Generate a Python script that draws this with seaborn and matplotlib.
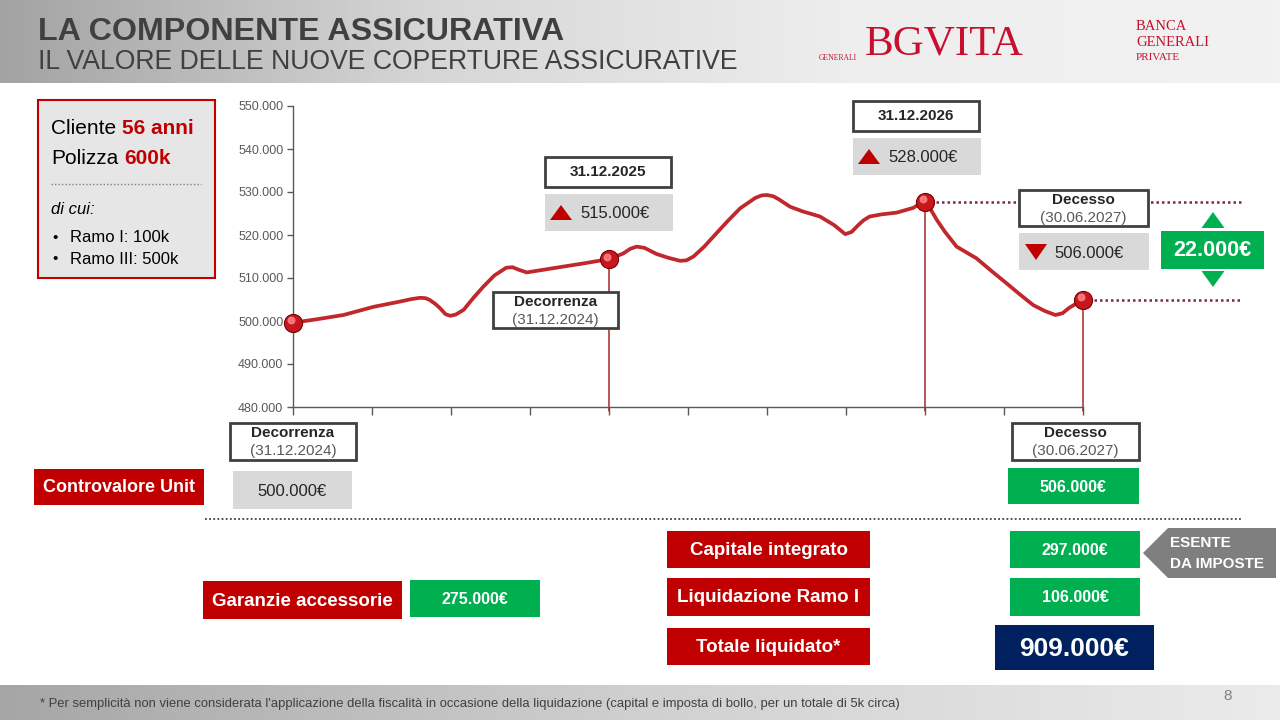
import matplotlib
matplotlib.use('Agg')

import matplotlib.pyplot as plt
import seaborn as sns
import numpy as np
from matplotlib.patches import Rectangle, Polygon
from matplotlib.colors import LinearSegmentedColormap
from matplotlib.ticker import FuncFormatter
from matplotlib.transforms import offset_copy

# --- data ---
# controvalore della parte Unit, x = semestri dall'inizio del grafico
curve_x = [0.00, 0.30, 0.64, 1.02, 1.35, 1.50, 1.61, 1.68, 1.73, 1.80, 1.86,
           1.93, 1.99, 2.06, 2.16, 2.28, 2.41, 2.55, 2.70, 2.78, 2.86, 2.96,
           3.30, 3.68, 4.00, 4.18, 4.27, 4.35, 4.45, 4.60, 4.75, 4.90, 4.98,
           5.07, 5.20, 5.32, 5.50, 5.66, 5.85, 5.93, 6.00, 6.08, 6.15, 6.29,
           6.45, 6.67, 6.85, 6.99, 7.07, 7.15, 7.22, 7.30, 7.45, 7.64, 7.85,
           7.93, 8.00, 8.07, 8.15, 8.25, 8.40, 8.52, 8.65, 8.85, 9.03, 9.20,
           9.37, 9.52, 9.65, 9.74, 9.82, 9.91, 10.00]
curve_val = [499600, 500400, 501400, 503300, 504500, 505100, 505400, 505300,
             504900, 504000, 503000, 501600, 501200, 501500, 502600, 505300,
             508000, 510600, 512400, 512500, 511900, 511300, 512300, 513400,
             514400, 515700, 516800, 517300, 517000, 515600, 514700, 514000,
             514100, 515000, 517200, 519600, 523200, 526200, 528600, 529200,
             529300, 529000, 528300, 526600, 525500, 524300, 522300, 520200,
             520700, 522200, 523400, 524300, 524800, 525200, 526300, 527200,
             527700, 526000, 523500, 520800, 517300, 516000, 514600, 511500,
             508800, 506200, 503700, 502300, 501400, 501800, 503000, 504000,
             505000]
event_x = [0, 4, 8, 10]
event_val = [499600, 514400, 527700, 505000]
y_ticks = [480000, 490000, 500000, 510000, 520000, 530000, 540000, 550000]
x_ticks = list(range(11))

date_labels = ['31.12.2025', '31.12.2026']
date_amounts = [515000, 528000]
death_amount = 506000
delta_amount = 22000
start_amount = 500000
end_amount = 506000
payout_labels = ['Capitale integrato', 'Liquidazione Ramo I', 'Totale liquidato*']
payout_values = [297000, 106000, 909000]
garanzie_value = 275000

RED = '#C00000'
GREEN = '#00B050'
NAVY = '#002060'
LGRAY = '#D9D9D9'
DARK = '#262626'


def eur(v):
    return f"{v:,.0f}".replace(',', '.') + '€'


sns.set_theme(style='white')
plt.rcParams['font.family'] = ['Liberation Sans', 'DejaVu Sans']

fig = plt.figure(figsize=(12.8, 7.2), dpi=100)

# --- chart ---
ax = fig.add_axes([293 / 1280, (720 - 407) / 720, 790 / 1280, 301 / 720], zorder=1)
ax.patch.set_alpha(0)
sns.lineplot(x=curve_x, y=curve_val, ax=ax, color='#C0282D', linewidth=2.7,
             solid_joinstyle='round', solid_capstyle='round', zorder=3)

for x, v in zip(event_x[1:], event_val[1:]):
    ax.plot([x, x], [v, y_ticks[0] - 1000], color='#A52A2A', lw=1.1,
            clip_on=False, zorder=2)
for x, v in zip(event_x[2:], event_val[2:]):
    ax.plot([x, 12], [v, v], color='#7B2746', lw=1.8, dashes=(1, 1.2),
            clip_on=False, zorder=2)

sns.scatterplot(x=event_x, y=event_val, ax=ax, s=170, color='#C8161E',
                edgecolor='#7A0000', linewidth=0.8, zorder=5, clip_on=False)
ax.scatter(event_x, event_val, s=22, color='#FF8A8A', alpha=0.8, zorder=6,
           clip_on=False, transform=offset_copy(ax.transData, fig, x=-2.5, y=2.5, units='dots'))

ax.set_xlim(0, 10)
ax.set_ylim(y_ticks[0], y_ticks[-1])
ax.set_xticks(x_ticks)
ax.set_xticklabels([])
ax.set_yticks(y_ticks)
ax.yaxis.set_major_formatter(FuncFormatter(lambda v, p: f"{v:,.0f}".replace(',', '.')))
ax.tick_params(axis='y', length=4, width=1, color='#595959', labelsize=9,
               labelcolor='#595959', pad=3, left=True)
ax.tick_params(axis='x', length=6, width=1, color='#595959', bottom=True)
for side in ['top', 'right']:
    ax.spines[side].set_visible(False)
for side in ['left', 'bottom']:
    ax.spines[side].set_color('#595959')
    ax.spines[side].set_linewidth(1)
ax.grid(False)

# --- slide overlay ---
ov = fig.add_axes([0, 0, 1, 1], zorder=3)
ov.patch.set_alpha(0)
ov.axis('off')

grad = np.linspace(0, 1, 256).reshape(1, -1)
head_cmap = LinearSegmentedColormap.from_list('h', ['#A3A3A3', '#D6D6D6', '#EEEEEE', '#F2F2F2'])
foot_cmap = LinearSegmentedColormap.from_list('f', ['#A6A6A6', '#D0D0D0', '#EBEBEB'])
ov.imshow(grad, extent=[0, 1280, 83, 0], cmap=head_cmap, aspect='auto', zorder=0)
ov.imshow(grad, extent=[0, 1280, 720, 685], cmap=foot_cmap, aspect='auto', zorder=0)
ov.set_xlim(0, 1280)
ov.set_ylim(720, 0)


def box(x0, y0, x1, y1, fc, ec='none', lw=0):
    ov.add_patch(Rectangle((x0, y0), x1 - x0, y1 - y0, facecolor=fc,
                           edgecolor=ec, linewidth=lw, zorder=2))


def txt(x, y, s, size, color=DARK, weight='normal', ha='center', style='normal'):
    return ov.text(x, y, s, fontsize=size, color=color, fontweight=weight,
                   ha=ha, va='center', fontstyle=style, zorder=4)


def tri(cx, top, bottom, w, up, color):
    if up:
        pts = [(cx - w / 2, bottom), (cx + w / 2, bottom), (cx, top)]
    else:
        pts = [(cx - w / 2, top), (cx + w / 2, top), (cx, bottom)]
    ov.add_patch(Polygon(pts, closed=True, facecolor=color, edgecolor='none', zorder=4))


def date_box(x0, y0, x1, y1, title, sub):
    box(x0, y0, x1, y1, 'white', '#404040', 2)
    cx = (x0 + x1) / 2
    txt(cx, y0 + 10, title, 11, DARK, 'bold')
    txt(cx, y0 + 28, sub, 11, '#595959')


# header
txt(38, 32, 'LA COMPONENTE ASSICURATIVA', 23.2, '#404040', 'bold', ha='left')
txt(38, 62, 'IL VALORE DELLE NUOVE COPERTURE ASSICURATIVE', 19.2, '#404040', ha='left')
ov.text(865, 44, 'BGVITA', fontsize=31, color='#C8102E', family='Liberation Serif',
        ha='left', va='center', zorder=4)
ov.text(838, 58, 'GENERALI', fontsize=5.5, color='#C8102E', family='Liberation Serif',
        ha='center', va='center', zorder=4)
for yy, s, fs in [(26, 'BANCA', 10.5), (42, 'GENERALI', 10.5), (58, 'PRIVATE', 8)]:
    ov.text(1136, yy, s, fontsize=fs, color='#C8102E', family='Liberation Serif',
            ha='left', va='center', zorder=4)

# client box
box(38, 100, 215, 278, '#E7E6E6', RED, 1.5)
t1 = txt(51, 129, 'Cliente', 15, 'black', ha='left')
ov.annotate('56 anni', xy=(1, 0.5), xycoords=t1, xytext=(4, 0), textcoords='offset points',
            fontsize=15, color=RED, fontweight='bold', ha='left', va='center', zorder=4)
t2 = txt(51, 159, 'Polizza', 15, 'black', ha='left')
ov.annotate('600k', xy=(1, 0.5), xycoords=t2, xytext=(4, 0), textcoords='offset points',
            fontsize=15, color=RED, fontweight='bold', ha='left', va='center', zorder=4)
ov.plot([51, 201], [184, 184], color='#7F7F7F', lw=1, dashes=(1, 1.5), zorder=4)
txt(51, 210, 'di cui:', 12, 'black', ha='left', style='italic')
for yy, s in [(238, 'Ramo I: 100k'), (259, 'Ramo III: 500k')]:
    txt(52, yy, '•', 11, 'black', ha='left')
    txt(70, yy, s, 12, 'black', ha='left')

# chart callouts
date_box(493, 292, 618, 328, 'Decorrenza', '(31.12.2024)')
for (x0, y0), lab, amt in zip([(545, 157), (853, 101)], date_labels, date_amounts):
    box(x0, y0, x0 + 126, y0 + 30, 'white', '#404040', 2)
    txt(x0 + 63, y0 + 15, lab, 11, DARK, 'bold')
    box(x0, y0 + 37, x0 + 128, y0 + 74, LGRAY)
    tri(x0 + 16, y0 + 48, y0 + 63, 22, True, RED)
    txt(x0 + 35, y0 + 56, eur(amt), 12, DARK, ha='left')

date_box(1019, 190, 1148, 226, 'Decesso', '(30.06.2027)')
box(1019, 233, 1149, 270, LGRAY)
tri(1036, 244, 260, 22, False, RED)
txt(1054, 253, eur(death_amount), 12, DARK, ha='left')

box(1161, 231, 1264, 269, GREEN)
txt(1212, 251, eur(delta_amount), 15.5, 'white', 'bold')
tri(1213, 212, 228, 23, True, GREEN)
tri(1213, 271, 287, 23, False, GREEN)

# lower section
date_box(230, 423, 356, 460, 'Decorrenza', '(31.12.2024)')
date_box(1012, 423, 1139, 460, 'Decesso', '(30.06.2027)')
box(34, 469, 204, 505, RED)
txt(119, 488, 'Controvalore Unit', 13, 'white', 'bold')
box(233, 471, 352, 509, LGRAY)
txt(292, 492, eur(start_amount), 12, DARK)
box(1008, 468, 1139, 504, GREEN)
txt(1073, 487, eur(end_amount), 11.5, 'white', 'bold')

ov.plot([205, 1243], [519, 519], color='#404040', lw=1.3, dashes=(1, 1.3), zorder=4)

rows = [(531, 568), (578, 616), (628, 665)]
for (y0, y1), lab in zip(rows, payout_labels):
    box(667, y0, 870, y1, RED)
    txt(768.5, (y0 + y1) / 2 + 1, lab, 13.5, 'white', 'bold')
for (y0, y1), val in zip(rows[:2], payout_values[:2]):
    box(1010, y0, 1140, y1, GREEN)
    txt(1075, (y0 + y1) / 2 + 1, eur(val), 11.5, 'white', 'bold')
box(995, 625, 1154, 670, NAVY)
txt(1074.5, 648.5, eur(payout_values[2]), 19, 'white', 'bold')

ov.add_patch(Polygon([(1143, 553), (1168, 528), (1276, 528), (1276, 578), (1168, 578)],
                     closed=True, facecolor='#7F7F7F', edgecolor='none', zorder=2))
txt(1170, 543, 'ESENTE', 11, 'white', 'bold', ha='left')
txt(1170, 564, 'DA IMPOSTE', 11, 'white', 'bold', ha='left')

box(203, 581, 402, 619, RED)
txt(302.5, 601, 'Garanzie accessorie', 13.5, 'white', 'bold')
box(410, 580, 540, 617, GREEN)
txt(475, 600, eur(garanzie_value), 11.5, 'white', 'bold')

# footer
txt(40, 704, "* Per semplicità non viene considerata l'applicazione della fiscalità in occasione "
    "della liquidazione (capital e imposta di bollo, per un totale di 5k circa)",
    9.4, '#404040', ha='left')
txt(1228, 696, '8', 11, '#7F7F7F')

fig.savefig('out.png', dpi=100)
plt.close(fig)
